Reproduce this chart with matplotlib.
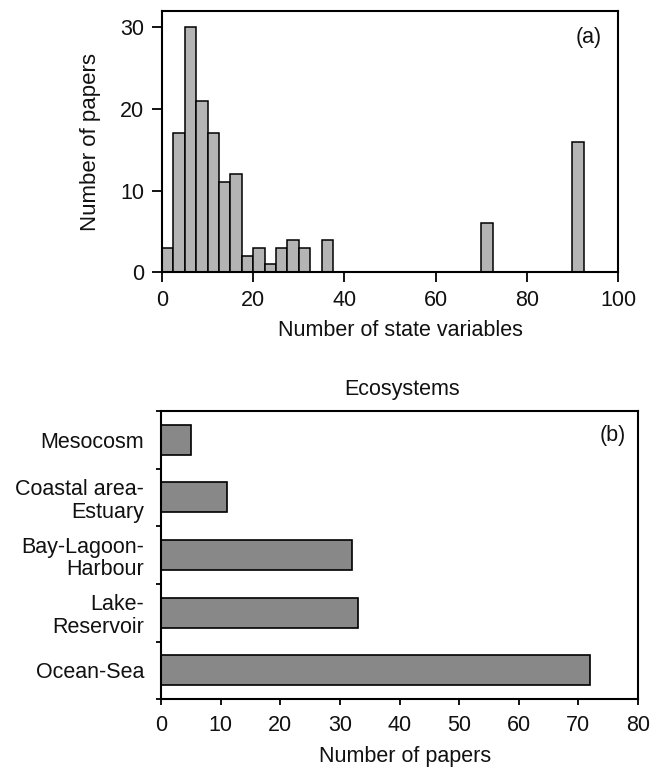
import matplotlib
matplotlib.use("Agg")
import matplotlib.pyplot as plt

plt.rcParams['font.family'] = ['Liberation Sans', 'DejaVu Sans']

# Panel (a): histogram of number of state variables (bin width 2.5)
bin_starts = [0, 2.5, 5, 7.5, 10, 12.5, 15, 17.5, 20, 22.5, 25, 27.5, 30, 32.5, 35, 70, 90]
bin_counts = [3, 17, 30, 21, 17, 11, 12, 2, 3, 1, 3, 4, 3, 0, 4, 6, 16]
bin_width = 2.5
a_xticks = [0, 20, 40, 60, 80, 100]
a_yticks = [0, 10, 20, 30]

# Panel (b): ecosystems
ecosystems = ["Mesocosm", "Coastal area-\nEstuary", "Bay-Lagoon-\nHarbour", "Lake-\nReservoir", "Ocean-Sea"]
eco_papers = [5, 11, 32, 33, 72]
b_xticks = [0, 10, 20, 30, 40, 50, 60, 70, 80]

W, H = 662, 770
fig = plt.figure(figsize=(W / 100, H / 100), dpi=100)

def frac(l, r, t, b):
    return [l / W, 1 - b / H, (r - l) / W, (b - t) / H]

fs = 15.5
tc = '#111111'

# ---- panel a
axa = fig.add_axes(frac(162, 618, 11, 272.3))
axa.bar(bin_starts, bin_counts, width=bin_width, align='edge',
        color='#b4b4b4', edgecolor='black', linewidth=1.1)
axa.set_xlim(0, 100)
axa.set_ylim(0, 32)
axa.set_xticks(a_xticks)
axa.set_yticks(a_yticks)
axa.tick_params(direction='out', length=7, width=1.3, labelsize=fs, pad=6, labelcolor=tc)
for s in axa.spines.values():
    s.set_linewidth(1.5)
axa.set_xlabel("Number of state variables", fontsize=fs, color=tc)
axa.set_ylabel("Number of papers", fontsize=fs + 0.5, color=tc)
axa.xaxis.set_label_coords((400 - 162) / 456, (272.3 - 320) / 261.3)
axa.yaxis.set_label_coords((101 - 162) / 456, 0.5)
fig.text(589 / W, 1 - 38 / H, "(a)", fontsize=fs, ha='center', va='center', color=tc)

# ---- panel b
axb = fig.add_axes(frac(161, 638, 411, 699.3))
ypos = list(range(len(ecosystems)))
axb.barh(ypos, eco_papers, height=0.52, color='#888888', edgecolor='black', linewidth=1.2)
axb.set_ylim(len(ecosystems) - 0.5, -0.5)
axb.set_xlim(0, 80)
axb.set_xticks(b_xticks)
axb.set_yticks([p - 0.5 for p in ypos] + [len(ecosystems) - 0.5])
axb.set_yticklabels([])
axb.set_yticks(ypos, minor=True)
axb.set_yticklabels(ecosystems, minor=True, fontsize=fs, ha='right', color=tc,
                    linespacing=1.1)
axb.tick_params(axis='y', which='major', direction='out', length=3.5, width=1.3)
axb.tick_params(axis='y', which='minor', length=0, pad=12)
axb.tick_params(axis='x', direction='out', length=4.5, width=1.3, labelsize=fs, pad=7,
                labelcolor=tc)
for s in axb.spines.values():
    s.set_linewidth(1.5)
axb.set_xlabel("Number of papers", fontsize=fs, color=tc)
axb.xaxis.set_label_coords((405 - 161) / 477, (699.3 - 746) / 288.3)
fig.text(402 / W, 1 - 389 / H, "Ecosystems", fontsize=fs, ha='center', va='center', color=tc)
fig.text(613 / W, 1 - 435 / H, "(b)", fontsize=fs, ha='center', va='center', color=tc)

fig.savefig("out.png", dpi=100)
